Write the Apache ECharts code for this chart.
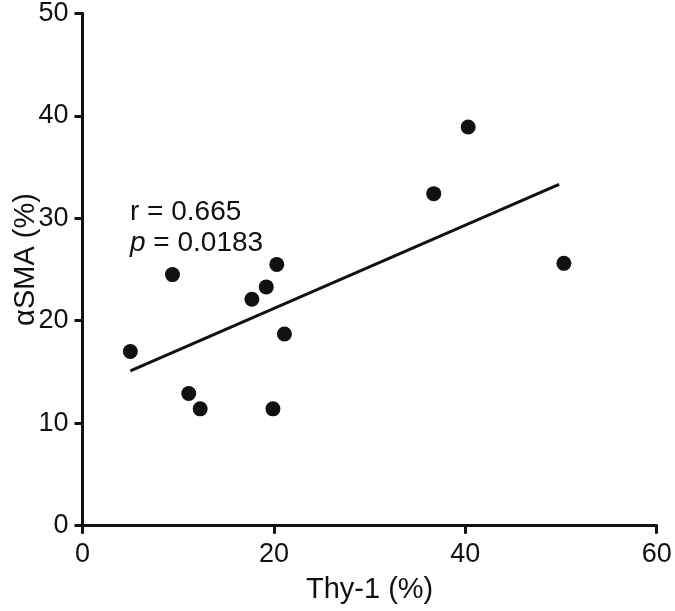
<!DOCTYPE html>
<html>
<head>
<meta charset="utf-8">
<script src="https://cdn.jsdelivr.net/npm/echarts@6/dist/echarts.min.js"></script>
<style>
  html, body { margin: 0; padding: 0; background: #fff; }
  #chart { width: 675px; height: 611px; }
</style>
</head>
<body>
<div id="chart"></div>
<script>
// Thy-1 (%) vs αSMA (%)
const thy1 = [5.0, 9.4, 11.1, 12.3, 17.7, 19.2, 20.3, 19.9, 21.1, 36.7, 40.3, 50.3]
const asma = [17.0, 24.5, 12.9, 11.4, 22.1, 23.3, 25.5, 11.4, 18.7, 32.4, 38.9, 25.6]
// regression line endpoints
const fitX = [5.0, 49.8]
const fitY = [15.1, 33.3]
const xTicks = [0, 20, 40, 60]
const yTicks = [0, 10, 20, 30, 40, 50]
const statLines = ['r = 0.665', '{i|p} = 0.0183']

const font = '"Liberation Sans", Arial, sans-serif'
const ink = '#111'

const chart = echarts.init(document.getElementById('chart'))

const axisBase = {
  type: 'value',
  axisLine: { show: true, onZero: false, lineStyle: { color: ink, width: 3 } },
  axisTick: { show: true, length: 8, inside: false, lineStyle: { color: ink, width: 3 } },
  splitLine: { show: false },
  nameLocation: 'middle',
  nameMoveOverlap: false,
  nameTextStyle: { color: ink, fontFamily: font, fontSize: 29 },
  axisLabel: { color: ink, fontFamily: font, fontSize: 27 },
}

chart.setOption({
  animation: false,
  grid: {
    left: 82.5, right: 18.3, top: 13.3, bottom: 85.3,
    containLabel: false,
    outerBoundsMode: 'none',
  },
  xAxis: Object.assign({}, axisBase, {
    min: xTicks[0],
    max: xTicks[xTicks.length - 1],
    interval: 20,
    name: 'Thy-1 (%)',
    nameGap: 50,
    axisLabel: Object.assign({}, axisBase.axisLabel, { margin: 15 }),
  }),
  yAxis: Object.assign({}, axisBase, {
    min: yTicks[0],
    max: yTicks[yTicks.length - 1],
    interval: 10,
    name: 'αSMA (%)',
    nameRotate: 90,
    nameGap: 42,
    nameTextStyle: Object.assign({}, axisBase.nameTextStyle, { padding: [0, 0, 0, 20] }),
    axisLabel: Object.assign({}, axisBase.axisLabel, { margin: 14 }),
  }),
  graphic: [
    {
      type: 'text',
      left: 130,
      top: 197,
      style: {
        text: statLines.join('\n'),
        fontFamily: font,
        fontSize: 28,
        fill: ink,
        lineHeight: 31,
        rich: { i: { fontStyle: 'italic', fontFamily: font, fontSize: 28, fill: ink, lineHeight: 31 } },
      },
    },
  ],
  series: [
    {
      type: 'line',
      data: fitX.map((x, i) => [x, fitY[i]]),
      symbol: 'none',
      lineStyle: { color: ink, width: 3 },
      z: 2,
    },
    {
      type: 'scatter',
      data: thy1.map((x, i) => [x, asma[i]]),
      symbol: 'circle',
      symbolSize: 15,
      itemStyle: { color: ink, opacity: 1 },
      z: 3,
    },
  ],
})
</script>
</body>
</html>
